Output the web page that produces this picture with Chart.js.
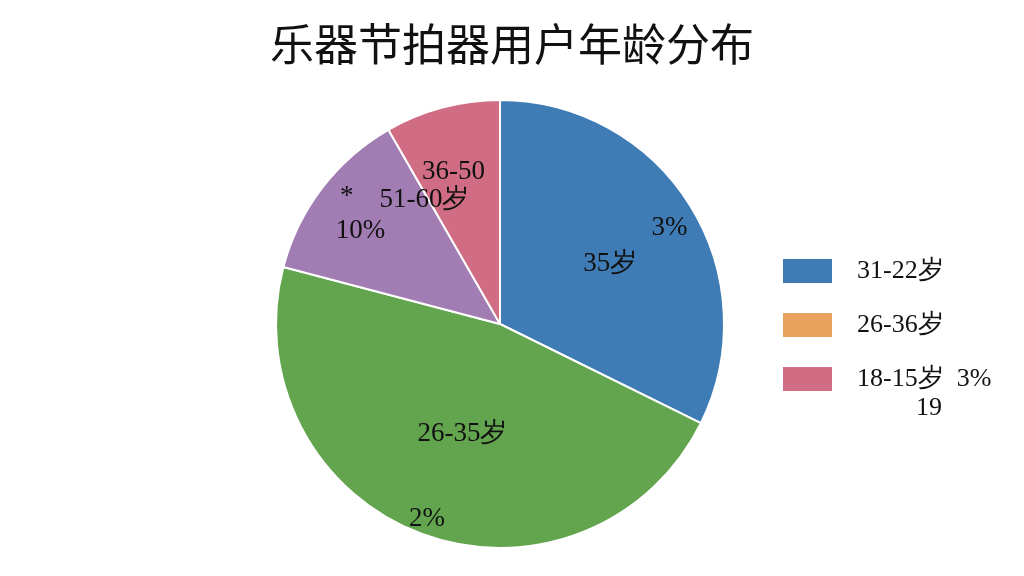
<!DOCTYPE html>
<html>
<head>
<meta charset="utf-8">
<title>乐器节拍器用户年龄分布</title>
<script src="https://cdn.jsdelivr.net/npm/chart.js@4.4.1/dist/chart.umd.min.js"></script>
<style>
  html, body { margin: 0; padding: 0; background: #fff; }
  #chartContainer { width: 1024px; height: 576px; }
</style>
</head>
<body>
<div id="chartContainer"><canvas id="chart"></canvas></div>
<script>
const chartTitle = '乐器节拍器用户年龄分布'

// slice data (clockwise from 12 o'clock)
const sliceNames = ['31-35岁', '26-35岁', '51-60岁', '36-50岁']
const sliceValues = [32.3, 46.8, 12.6, 8.3]
const sliceColors = ['#3f7cb5', '#63a54f', '#a27db4', '#d06c83']

// legend as printed on the picture
const legendLabels = [['31-22岁'], ['26-36岁'], ['18-15岁  3%', '19']]
const legendColors = ['#3f7cb5', '#e9a25e', '#d06c83']

// text written inside the slices
const labelTexts = ['3%', '35岁', '26-35岁', '2%', '*', '10%', '51-60岁', '36-50']
const labelSlices = [0, 0, 1, 1, 2, 2, 2, 3]

// where each slice label sits: fraction across the slice, fraction of radius
const labelPlace = [
    [0.52, 0.87], [0.53, 0.56],
    [0.49, 0.52], [0.50, 0.93],
    [0.55, 0.89], [0.42, 0.75], [0.97, 0.65],
    [0.43, 0.71]
]

const serif = "'Liberation Serif', 'DejaVu Serif', serif"

// the built-in title gets squeezed into the padded area, so draw it here
const titlePlugin = {
    id: 'wideTitle',
    afterDraw(chart) {
        const ctx = chart.ctx
        ctx.save()
        ctx.fillStyle = '#111'
        ctx.textAlign = 'center'
        ctx.textBaseline = 'middle'
        ctx.font = "44px 'Noto Sans CJK SC', sans-serif"
        ctx.fillText(chartTitle, chart.width / 2, 44)
        ctx.restore()
    }
}

const sliceLabelPlugin = {
    id: 'sliceLabels',
    afterDatasetsDraw(chart) {
        const ctx = chart.ctx
        const arcs = chart.getDatasetMeta(0).data
        ctx.save()
        ctx.fillStyle = '#111'
        ctx.textAlign = 'center'
        ctx.textBaseline = 'middle'
        ctx.font = '27px ' + serif
        labelTexts.forEach((text, i) => {
            const arc = arcs[labelSlices[i]]
            const [t, rf] = labelPlace[i]
            const a = arc.startAngle + (arc.endAngle - arc.startAngle) * t
            const r = arc.outerRadius * rf
            ctx.fillText(text, arc.x + Math.cos(a) * r, arc.y + Math.sin(a) * r)
        })
        ctx.restore()
    }
}

const sideLegendPlugin = {
    id: 'sideLegend',
    afterDraw(chart) {
        const ctx = chart.ctx
        ctx.save()
        ctx.textBaseline = 'middle'
        ctx.font = '26px ' + serif
        legendLabels.forEach((lines, i) => {
            const y = 271 + i * 54
            ctx.fillStyle = legendColors[i]
            ctx.fillRect(783, y - 12, 49, 24)
            ctx.fillStyle = '#111'
            ctx.textAlign = 'left'
            ctx.fillText(lines[0], 857, y)
            if (lines[1]) {
                ctx.textAlign = 'center'
                ctx.fillText(lines[1], 929, y + 29)
            }
        })
        ctx.restore()
    }
}

const ctx = document.getElementById('chart').getContext('2d')

new Chart(ctx, {
    type: 'pie',
    data: {
        labels: sliceNames,
        datasets: [{
            data: sliceValues,
            backgroundColor: sliceColors,
            borderColor: '#fff',
            borderWidth: 2
        }]
    },
    options: {
        responsive: true,
        maintainAspectRatio: false,
        animation: false,
        layout: { padding: { top: 99, bottom: 27, left: 273, right: 297 } },
        plugins: {
            legend: { display: false },
            tooltip: { enabled: false },
            title: { display: false }
        }
    },
    plugins: [titlePlugin, sliceLabelPlugin, sideLegendPlugin]
})
</script>
</body>
</html>
